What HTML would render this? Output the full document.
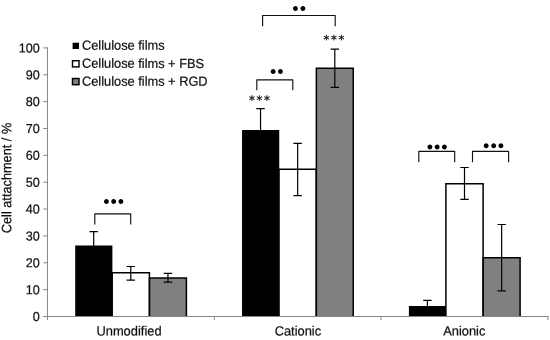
<!DOCTYPE html>
<html><head><meta charset="utf-8"><title>Cell attachment</title>
<style>
html,body{margin:0;padding:0;background:#fff}
svg{display:block;will-change:transform}
text{font-family:"Liberation Sans",Arial,sans-serif;fill:#111;stroke:#111;stroke-width:0.22px}
</style></head><body>
<svg width="550" height="340" viewBox="0 0 550 340">
<rect width="550" height="340" fill="#fff"/>

<rect x="75.20" y="245.50" width="37.2" height="70.90" fill="#000"/>
<path d="M112.20 316.4 V272.75 H149.40 V316.4" fill="#fff" stroke="#000" stroke-width="1.5" stroke-linejoin="miter"/>
<path d="M149.50 316.4 V278.00 H186.40 V316.4" fill="#808080" stroke="#000" stroke-width="1.5" stroke-linejoin="miter"/>
<path d="M93.70 231.6 V246.5 M89.50 231.6 H97.90" stroke="#000" stroke-width="1.2" fill="none"/>
<path d="M130.80 266.5 V280.2 M126.60 266.5 H135.00 M126.60 280.2 H135.00" stroke="#000" stroke-width="1.2" fill="none"/>
<path d="M167.95 273.3 V282.2 M163.75 273.3 H172.15 M163.75 282.2 H172.15" stroke="#000" stroke-width="1.2" fill="none"/>
<rect x="242.05" y="130.00" width="37.2" height="186.40" fill="#000"/>
<path d="M279.05 316.4 V169.25 H316.25 V316.4" fill="#fff" stroke="#000" stroke-width="1.5" stroke-linejoin="miter"/>
<path d="M316.35 316.4 V68.35 H353.25 V316.4" fill="#808080" stroke="#000" stroke-width="1.5" stroke-linejoin="miter"/>
<path d="M260.55 108.7 V131.0 M256.35 108.7 H264.75" stroke="#000" stroke-width="1.2" fill="none"/>
<path d="M297.65 143.4 V195.6 M293.45 143.4 H301.85 M293.45 195.6 H301.85" stroke="#000" stroke-width="1.2" fill="none"/>
<path d="M334.80 49.2 V87.3 M330.60 49.2 H339.00 M330.60 87.3 H339.00" stroke="#000" stroke-width="1.2" fill="none"/>
<rect x="408.90" y="306.00" width="37.2" height="10.40" fill="#000"/>
<path d="M445.90 316.4 V183.65 H483.10 V316.4" fill="#fff" stroke="#000" stroke-width="1.5" stroke-linejoin="miter"/>
<path d="M483.20 316.4 V257.65 H520.10 V316.4" fill="#808080" stroke="#000" stroke-width="1.5" stroke-linejoin="miter"/>
<path d="M427.40 300.3 V307.0 M423.20 300.3 H431.60" stroke="#000" stroke-width="1.2" fill="none"/>
<path d="M464.50 167.5 V199.4 M460.30 167.5 H468.70 M460.30 199.4 H468.70" stroke="#000" stroke-width="1.2" fill="none"/>
<path d="M501.65 224.5 V290.8 M497.45 224.5 H505.85 M497.45 290.8 H505.85" stroke="#000" stroke-width="1.2" fill="none"/>
<g stroke="#868686" stroke-width="1" fill="none">
<path d="M47.45 47.4 V320"/>
<path d="M43.3 316.5 H548.5"/>
<path d="M43.3 289.64 H47.5"/>
<path d="M43.3 262.78 H47.5"/>
<path d="M43.3 235.92 H47.5"/>
<path d="M43.3 209.06 H47.5"/>
<path d="M43.3 182.20 H47.5"/>
<path d="M43.3 155.34 H47.5"/>
<path d="M43.3 128.48 H47.5"/>
<path d="M43.3 101.62 H47.5"/>
<path d="M43.3 74.76 H47.5"/>
<path d="M43.3 47.90 H47.5"/>
<path d="M214.3 316.5 V320"/>
<path d="M381.1 316.5 V320"/>
<path d="M547.9 316.5 V320"/>
</g>
<text transform="translate(39.7,321.00) rotate(0.03) scale(1,1.03)" font-size="12.6" text-anchor="end">0</text>
<text transform="translate(39.7,294.14) rotate(0.03) scale(1,1.03)" font-size="12.6" text-anchor="end">10</text>
<text transform="translate(39.7,267.28) rotate(0.03) scale(1,1.03)" font-size="12.6" text-anchor="end">20</text>
<text transform="translate(39.7,240.42) rotate(0.03) scale(1,1.03)" font-size="12.6" text-anchor="end">30</text>
<text transform="translate(39.7,213.56) rotate(0.03) scale(1,1.03)" font-size="12.6" text-anchor="end">40</text>
<text transform="translate(39.7,186.70) rotate(0.03) scale(1,1.03)" font-size="12.6" text-anchor="end">50</text>
<text transform="translate(39.7,159.84) rotate(0.03) scale(1,1.03)" font-size="12.6" text-anchor="end">60</text>
<text transform="translate(39.7,132.98) rotate(0.03) scale(1,1.03)" font-size="12.6" text-anchor="end">70</text>
<text transform="translate(39.7,106.12) rotate(0.03) scale(1,1.03)" font-size="12.6" text-anchor="end">80</text>
<text transform="translate(39.7,79.26) rotate(0.03) scale(1,1.03)" font-size="12.6" text-anchor="end">90</text>
<text transform="translate(39.7,52.40) rotate(0.03) scale(1,1.03)" font-size="12.6" text-anchor="end">100</text>
<text transform="translate(11.3,178.0) rotate(-90.03) scale(1,1.07)" font-size="12.75" text-anchor="middle">Cell attachment / %</text>
<text transform="translate(129.0,335.5) rotate(0.03) scale(1,1.03)" font-size="12.9" text-anchor="middle">Unmodified</text>
<text transform="translate(297.9,335.5) rotate(0.03) scale(1,1.03)" font-size="12.9" text-anchor="middle">Cationic</text>
<text transform="translate(464.3,335.5) rotate(0.03) scale(1,1.03)" font-size="12.9" text-anchor="middle">Anionic</text>
<rect x="72.6" y="42.7" width="6.4" height="6.3" fill="#000"/>
<text transform="translate(82.0,49.80) rotate(0.03) scale(1,1.03)" font-size="12.82">Cellulose films</text>
<rect x="72.5" y="60.7" width="6.5" height="6.2" fill="#fff" stroke="#000" stroke-width="1.45"/>
<text transform="translate(82.0,67.85) rotate(0.03) scale(1,1.03)" font-size="12.82">Cellulose films + FBS</text>
<rect x="72.5" y="78.5" width="6.5" height="6.2" fill="#808080" stroke="#000" stroke-width="1.45"/>
<text transform="translate(82.0,85.65) rotate(0.03) scale(1,1.03)" font-size="12.82">Cellulose films + RGD</text>
<path d="M94.8 224.5 V213.8 H130.7 V224.5" stroke="#111" stroke-width="1.15" fill="none" stroke-linejoin="round"/>
<path d="M262.6 26.2 V15.5 H335.2 V26.2" stroke="#111" stroke-width="1.15" fill="none" stroke-linejoin="round"/>
<path d="M256.8 90.3 V79.8 H292.8 V90.3" stroke="#111" stroke-width="1.15" fill="none" stroke-linejoin="round"/>
<path d="M418.8 162.2 V151.4 H454.7 V162.2" stroke="#111" stroke-width="1.15" fill="none" stroke-linejoin="round"/>
<path d="M472.5 162.2 V151.4 H508.6 V162.2" stroke="#111" stroke-width="1.15" fill="none" stroke-linejoin="round"/>
<text transform="translate(106.4,207.54) rotate(0.1)" font-size="18" text-anchor="middle" style="stroke:none;fill:#000">•</text>
<text transform="translate(113.6,207.54) rotate(0.1)" font-size="18" text-anchor="middle" style="stroke:none;fill:#000">•</text>
<text transform="translate(120.9,207.54) rotate(0.1)" font-size="18" text-anchor="middle" style="stroke:none;fill:#000">•</text>
<text transform="translate(295.4,14.54) rotate(0.1)" font-size="18" text-anchor="middle" style="stroke:none;fill:#000">•</text>
<text transform="translate(302.8,14.54) rotate(0.1)" font-size="18" text-anchor="middle" style="stroke:none;fill:#000">•</text>
<text transform="translate(273.1,77.54) rotate(0.1)" font-size="18" text-anchor="middle" style="stroke:none;fill:#000">•</text>
<text transform="translate(280.4,77.54) rotate(0.1)" font-size="18" text-anchor="middle" style="stroke:none;fill:#000">•</text>
<text transform="translate(429.8,153.04) rotate(0.1)" font-size="18" text-anchor="middle" style="stroke:none;fill:#000">•</text>
<text transform="translate(437.1,153.04) rotate(0.1)" font-size="18" text-anchor="middle" style="stroke:none;fill:#000">•</text>
<text transform="translate(444.4,153.04) rotate(0.1)" font-size="18" text-anchor="middle" style="stroke:none;fill:#000">•</text>
<text transform="translate(486.2,151.64) rotate(0.1)" font-size="18" text-anchor="middle" style="stroke:none;fill:#000">•</text>
<text transform="translate(493.6,151.64) rotate(0.1)" font-size="18" text-anchor="middle" style="stroke:none;fill:#000">•</text>
<text transform="translate(500.9,151.64) rotate(0.1)" font-size="18" text-anchor="middle" style="stroke:none;fill:#000">•</text>
<text transform="translate(323.62,43.48) rotate(0.05)" font-size="11.5" letter-spacing="1.65" style="font-family:'DejaVu Sans',sans-serif;stroke:#111;stroke-width:0.3px">***</text>
<text transform="translate(249.12,103.98) rotate(0.05)" font-size="11.5" letter-spacing="1.65" style="font-family:'DejaVu Sans',sans-serif;stroke:#111;stroke-width:0.3px">***</text>
</svg></body></html>
